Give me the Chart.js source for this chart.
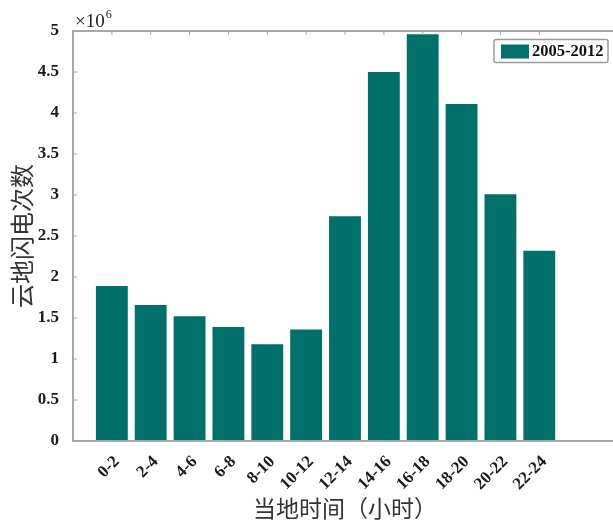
<!DOCTYPE html>
<html>
<head>
<meta charset="utf-8">
<script src="https://cdn.jsdelivr.net/npm/chart.js@4/dist/chart.umd.min.js"></script>
<style>
  html, body { margin: 0; padding: 0; overflow: hidden; background: #fff; }
</style>
</head>
<body>
<canvas id="chart" width="620" height="522"></canvas>
<script>
// data (counts, x10^6 shown on the axis)
const hours = ["0-2", "2-4", "4-6", "6-8", "8-10", "10-12", "12-14", "14-16", "16-18", "18-20", "20-22", "22-24"];
const flashCounts = [1.89e6, 1.66e6, 1.52e6, 1.39e6, 1.18e6, 1.36e6, 2.74e6, 4.50e6, 4.96e6, 4.11e6, 3.01e6, 2.32e6];
const yTicks = [0, 0.5, 1, 1.5, 2, 2.5, 3, 3.5, 4, 4.5, 5];
const seriesName = "2005-2012";

const barColor = "#00716a";
const axisColor = "#a8a8a8";
const serif = "'Liberation Serif', 'Times New Roman', serif";
const cjk = "'Noto Sans CJK SC', sans-serif";

/* ======================
   BOX + TICKS + LEGEND
====================== */
const matlabBox = {
  id: "matlabBox",
  afterDatasetsDraw(chart) {
    const { ctx, chartArea: a, scales } = chart;
    ctx.save();
    ctx.strokeStyle = axisColor;
    ctx.lineWidth = 2;
    ctx.strokeRect(a.left, a.top, a.right - a.left, a.bottom - a.top);

    // inward ticks
    ctx.lineWidth = 1;
    yTicks.forEach((t) => {
      const y = scales.y.getPixelForValue(t * 1e6);
      ctx.beginPath();
      ctx.moveTo(a.left, y); ctx.lineTo(a.left + 4, y);
      ctx.moveTo(a.right, y); ctx.lineTo(a.right - 4, y);
      ctx.stroke();
    });
    hours.forEach((h, i) => {
      const x = scales.x.getPixelForValue(i + 1);
      ctx.beginPath();
      ctx.moveTo(x, a.top); ctx.lineTo(x, a.top + 4);
      ctx.stroke();
    });

    // x10^6 exponent
    ctx.fillStyle = "#222";
    ctx.textBaseline = "alphabetic";
    ctx.textAlign = "left";
    ctx.font = "19px " + serif;
    ctx.fillText("\u00d710", a.left + 2, a.top - 4);
    const w = ctx.measureText("\u00d710").width;
    ctx.font = "12px " + serif;
    ctx.fillText("6", a.left + 3 + w, a.top - 13);

    // legend
    const lx = a.right - 123, ly = a.top + 8.5, lw = 114, lh = 23;
    ctx.fillStyle = "#fff";
    ctx.fillRect(lx, ly, lw, lh);
    ctx.strokeStyle = "#9a9a9a";
    ctx.lineWidth = 1.5;
    ctx.beginPath();
    ctx.roundRect(lx, ly, lw, lh, 2);
    ctx.stroke();
    ctx.fillStyle = barColor;
    ctx.fillRect(lx + 7, ly + 5, 28, 14);
    ctx.fillStyle = "#111";
    ctx.font = "bold 16.5px " + serif;
    ctx.textBaseline = "middle";
    ctx.fillText(chart.data.datasets[0].label, lx + 38, ly + lh / 2 + 1);
    ctx.restore();
  },
};

new Chart(document.getElementById("chart"), {
  type: "bar",
  data: {
    datasets: [
      {
        label: seriesName,
        data: flashCounts.map((v, i) => ({ x: i + 1, y: v })),
        backgroundColor: barColor,
        borderWidth: 0,
        barPercentage: 0.82,
        categoryPercentage: 1,
      },
    ],
  },
  options: {
    responsive: false,
    animation: false,
    devicePixelRatio: 1,
    layout: { padding: { top: 31, right: 3, left: 0, bottom: 0 } },
    plugins: {
      legend: { display: false },
      tooltip: { enabled: false },
    },
    scales: {
      x: {
        type: "linear",
        min: 0,
        max: 14,
        offset: false,
        grid: { display: false },
        border: { display: false },
        afterBuildTicks: (s) => {
          s.ticks = hours.map((h, i) => ({ value: i + 1 }));
        },
        afterFit: (s) => { s.height = 81; },
        ticks: {
          autoSkip: false,
          maxRotation: 45,
          minRotation: 45,
          padding: 3,
          labelOffset: 5,
          color: "#1a1a1a",
          font: { family: serif, size: 17, weight: "bold" },
          callback: (v) => hours[v - 1] ?? "",
        },
        title: {
          display: true,
          text: "当地时间（小时）",
          color: "#333",
          padding: { top: 0, bottom: 0 },
          font: { family: cjk, size: 23 },
        },
      },
      y: {
        min: 0,
        max: 5e6,
        grid: { display: false },
        border: { display: false },
        afterBuildTicks: (s) => {
          s.ticks = yTicks.map((t) => ({ value: t * 1e6 }));
        },
        afterFit: (s) => { s.width = 73; },
        ticks: {
          padding: 6,
          color: "#1a1a1a",
          font: { family: serif, size: 17, weight: "bold" },
          callback: (v) => String(v / 1e6),
        },
        title: {
          display: true,
          text: "云地闪电次数",
          color: "#333",
          padding: { top: 7, bottom: 0 },
          font: { family: cjk, size: 24 },
        },
      },
    },
  },
  plugins: [matlabBox],
});
</script>
</body>
</html>
